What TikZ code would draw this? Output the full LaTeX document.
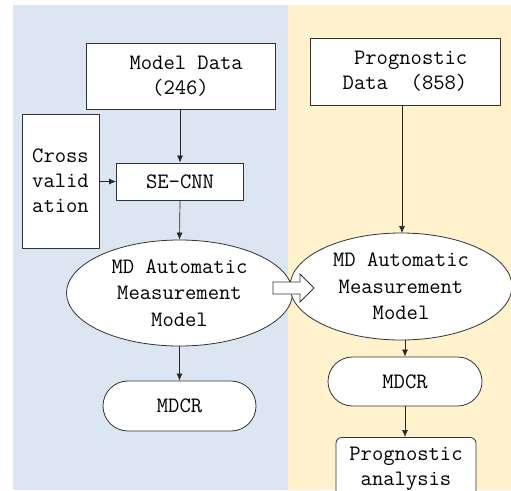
\documentclass[tikz,border=0pt]{standalone}
\usepackage{tikz}
\usetikzlibrary{positioning,arrows.meta,shapes.geometric,calc}
\definecolor{paneblue}{RGB}{220,230,242}
\definecolor{paneyellow}{RGB}{255,242,205}
\tikzset{
  flarr/.style={-{Latex[length=7pt,width=6pt]},line width=0.7pt,draw=black!85},
  databox/.style={draw=black!80,line width=0.8pt,fill=white,align=center,inner sep=0pt,
                  font=\ttfamily\fontsize{22}{25}\selectfont},
  modelell/.style={ellipse,draw=black!80,line width=0.8pt,fill=white,align=center,inner sep=0pt,
                   font=\ttfamily\fontsize{22}{26.5}\selectfont},
  resbox/.style={draw=black!80,line width=0.8pt,fill=white,align=center,inner sep=0pt,
                 font=\ttfamily\fontsize{22}{25}\selectfont}
}
\begin{document}
\begin{tikzpicture}[x=1pt,y=-1pt]
\useasboundingbox (0,0) rectangle (511,490);
% panels
\fill[paneblue] (13,5) rectangle (288,490);
\fill[paneyellow] (288,5) rectangle (511,490);

% left column
\node[databox, minimum width=189pt, minimum height=66pt] (mdata) at (180.5,76)
   {~Model Data\\(246)};
\node[databox, minimum width=127pt, minimum height=37pt] (secnn) at (180,181.5) {SE-CNN};
\node[databox, minimum width=77pt, minimum height=134pt] (cross) at (60.5,181)
   {Cross\\valid\\ation};
\node[modelell, minimum width=226pt, minimum height=106pt] (model1) at (179.5,293)
   {MD Automatic\\Measurement\\Model};
\node[resbox, rounded corners=25pt, minimum width=153pt, minimum height=50pt] (mdcr1)
   at (179.5,406) {MDCR};

% right column
\node[databox, minimum width=190pt, minimum height=67pt, align=left] (pdata) at (405,71.5)
   {~Prognostic\\Data~~(858)};
\node[modelell, minimum width=222pt, minimum height=107pt] (model2) at (401,286.5)
   {MD Automatic\\Measurement\\Model};
\node[resbox, rounded corners=24.5pt, minimum width=154pt, minimum height=49pt] (mdcr2)
   at (405,381.5) {MDCR};
\node[resbox, rounded corners=6pt, minimum width=140pt, minimum height=63pt, anchor=north]
   (panal) at (406,437) {Prognostic\\analysis};

% transfer arrow
\coordinate (trans) at (293.5,288);
\draw[draw=black!80, line width=0.8pt, fill=white]
   ($(trans)+(-20.5,-6)$) -- ++(27,0) -- ++(0,-8) -- ($(trans)+(20.5,0)$)
   -- ($(trans)+(6.5,14)$) -- ++(0,-8) -- ++(-27,0) -- cycle;

\draw[flarr] (mdata.south -| secnn.north) -- (secnn.north);
\draw[flarr] (cross.east |- secnn.west) -- (secnn.west);
\draw[flarr] (secnn.south) -- (model1.north);
\draw[flarr] (model1.south) -- (mdcr1.north);
\draw[flarr] (pdata.south -| 402,0) -- (402,233);
\draw[flarr] (model2.south -| mdcr2.north) -- (mdcr2.north);
\draw[flarr] (mdcr2.south) -- (mdcr2.south |- panal.north);
\end{tikzpicture}
\end{document}
